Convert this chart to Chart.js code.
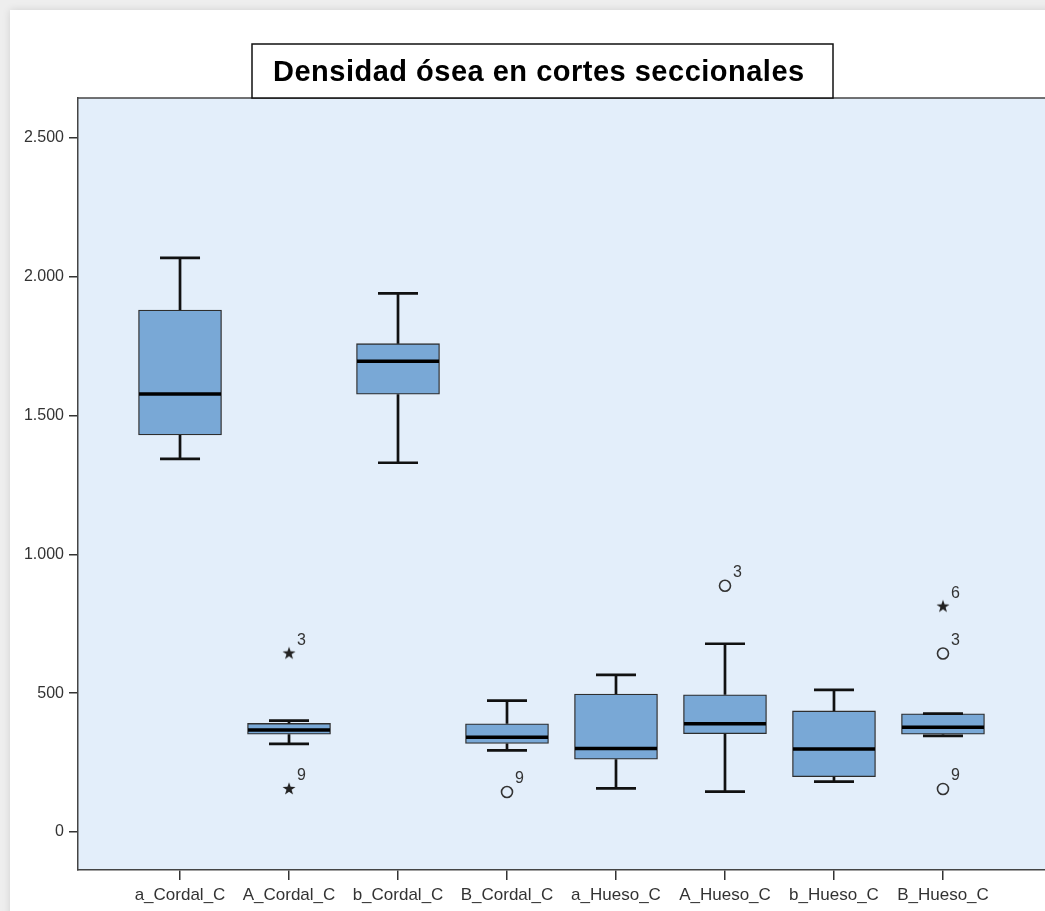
<!DOCTYPE html>
<html lang="es">
<head>
<meta charset="UTF-8">
<title>Densidad ósea en cortes seccionales</title>
<script src="https://cdn.jsdelivr.net/npm/chart.js"></script>
<style>
  html, body { margin: 0; padding: 0; }
  body {
    width: 1045px;
    height: 911px;
    background: #eeeeee;
    position: relative;
    overflow: hidden;
    font-family: Arial, 'Liberation Sans', sans-serif;
  }
  #sheet {
    position: absolute;
    left: 10px;
    top: 10px;
    width: 1100px;
    height: 1000px;
    background: #fff;
    box-shadow: 0 0 8px rgba(0,0,0,0.12);
  }
  #chart { position: absolute; left: 0; top: 0; }
</style>
</head>
<body>
<div id="sheet"></div>
<canvas id="chart" width="1045" height="911"></canvas>

<script>
  // datos
  const categories = ['a_Cordal_C', 'A_Cordal_C', 'b_Cordal_C', 'B_Cordal_C', 'a_Hueso_C', 'A_Hueso_C', 'b_Hueso_C', 'B_Hueso_C'];
  const whiskerLow  = [1344, 317, 1330, 294, 157, 145, 181, 346];
  const q1          = [1430, 352, 1577, 319, 262, 354, 199, 352];
  const median      = [1578, 367, 1696, 341, 301, 390, 299, 377];
  const q3          = [1880, 391, 1759, 390, 497, 494, 436, 426];
  const whiskerHigh = [2068, 401, 1940, 473, 566, 678, 512, 426];

  // valores atípicos (o) y extremos (*): categoría, valor, nº de caso
  const circleCat  = [4, 6, 8, 8];
  const circleVal  = [144, 887, 643, 155];
  const circleCase = ['9', '3', '3', '9'];
  const starCat    = [2, 2, 8];
  const starVal    = [643, 155, 812];
  const starCase   = ['3', '9', '6'];

  const yTicks = [0, 500, 1000, 1500, 2000, 2500];

  const fmt = v => String(v).replace(/\B(?=(\d{3})+(?!\d))/g, '.');

  // estrella rellena para los extremos
  const starImg = document.createElement('canvas');
  starImg.width = 16; starImg.height = 16;
  (function () {
    const c = starImg.getContext('2d');
    c.fillStyle = '#222';
    c.beginPath();
    for (let i = 0; i < 10; i++) {
      const r = i % 2 ? 2.7 : 6.8;
      const a = -Math.PI / 2 + i * Math.PI / 5;
      c.lineTo(8 + r * Math.cos(a), 8 + r * Math.sin(a));
    }
    c.closePath();
    c.fill();
  })();

  const boxPlugin = {
    id: 'boxParts',
    beforeDraw(chart) {
      const { ctx, chartArea: a } = chart;
      ctx.save();
      ctx.fillStyle = '#e3eefa';
      ctx.fillRect(a.left, a.top, a.right - a.left, a.bottom - a.top);
      ctx.restore();
    },
    afterDatasetsDraw(chart) {
      const { ctx, scales: { x, y } } = chart;
      ctx.save();
      ctx.strokeStyle = '#111';
      ctx.lineCap = 'butt';
      categories.forEach((c, i) => {
        const px = x.getPixelForValue(i + 1);
        // bigotes
        ctx.lineWidth = 2.7;
        ctx.beginPath();
        ctx.moveTo(px, y.getPixelForValue(q3[i]));
        ctx.lineTo(px, y.getPixelForValue(whiskerHigh[i]));
        ctx.moveTo(px, y.getPixelForValue(q1[i]));
        ctx.lineTo(px, y.getPixelForValue(whiskerLow[i]));
        ctx.moveTo(px - 20, y.getPixelForValue(whiskerHigh[i]));
        ctx.lineTo(px + 20, y.getPixelForValue(whiskerHigh[i]));
        ctx.moveTo(px - 20, y.getPixelForValue(whiskerLow[i]));
        ctx.lineTo(px + 20, y.getPixelForValue(whiskerLow[i]));
        ctx.stroke();
        // mediana
        ctx.lineWidth = 3.5;
        ctx.strokeStyle = '#000';
        ctx.beginPath();
        ctx.moveTo(px - 41, y.getPixelForValue(median[i]));
        ctx.lineTo(px + 41, y.getPixelForValue(median[i]));
        ctx.stroke();
        ctx.strokeStyle = '#111';
      });
      // etiquetas de caso
      ctx.fillStyle = '#333';
      ctx.font = '16px Arial, "Liberation Sans", sans-serif';
      ctx.textAlign = 'left';
      ctx.textBaseline = 'middle';
      [[1, circleCase], [2, starCase]].forEach(([di, labels]) => {
        chart.getDatasetMeta(di).data.forEach((pt, k) => {
          ctx.fillText(labels[k], pt.x + 8, pt.y - 13);
        });
      });
      ctx.restore();
    },
    afterDraw(chart) {
      const { ctx, chartArea: a } = chart;
      ctx.save();
      ctx.strokeStyle = '#444';
      ctx.lineWidth = 1.5;
      ctx.beginPath();
      ctx.moveTo(a.left, a.top);
      ctx.lineTo(a.right, a.top);
      ctx.stroke();
      // recuadro del título
      ctx.fillStyle = '#fff';
      ctx.fillRect(252, 44, 581, 54);
      ctx.strokeStyle = '#111';
      ctx.lineWidth = 1.5;
      ctx.strokeRect(252, 44, 581, 54);
      ctx.fillStyle = '#000';
      ctx.font = 'bold 29px Arial, "Liberation Sans", sans-serif';
      ctx.letterSpacing = '0.5px';
      ctx.textBaseline = 'middle';
      ctx.textAlign = 'left';
      ctx.fillText('Densidad ósea en cortes seccionales', 273, 73);
      ctx.restore();
    }
  };

  const ctx = document.getElementById('chart').getContext('2d');
  new Chart(ctx, {
    type: 'bar',
    data: {
      datasets: [
        {
          type: 'bar',
          data: categories.map((c, i) => ({ x: i + 1, y: [q1[i], q3[i]] })),
          backgroundColor: '#79a8d6',
          borderColor: '#2e2e2e',
          borderWidth: 1.3,
          borderSkipped: false,
          barThickness: 83
        },
        {
          type: 'scatter',
          data: circleCat.map((c, i) => ({ x: c, y: circleVal[i] })),
          pointStyle: 'circle',
          radius: 5.5,
          backgroundColor: 'rgba(0,0,0,0)',
          borderColor: '#333',
          borderWidth: 1.6
        },
        {
          type: 'scatter',
          data: starCat.map((c, i) => ({ x: c, y: starVal[i] })),
          pointStyle: starImg
        }
      ]
    },
    options: {
      responsive: false,
      animation: false,
      layout: { autoPadding: false, padding: { top: 98, left: 0, right: 0, bottom: 0 } },
      plugins: {
        legend: { display: false },
        tooltip: { enabled: false }
      },
      scales: {
        x: {
          type: 'linear',
          min: 0.064,
          max: 8.936,
          offset: false,
          afterBuildTicks: ax => { ax.ticks = categories.map((c, i) => ({ value: i + 1 })); },
          afterFit: ax => { ax.height = 41; },
          ticks: {
            callback: v => categories[v - 1],
            autoSkip: false,
            maxRotation: 0,
            padding: 5,
            color: '#333',
            font: { family: 'Arial, "Liberation Sans", sans-serif', size: 17 }
          },
          grid: { offset: false, drawOnChartArea: false, tickLength: 10, color: '#333', lineWidth: 1.5 },
          border: { color: '#444', width: 1.5 }
        },
        y: {
          min: -137,
          max: 2644,
          afterBuildTicks: ax => { ax.ticks = yTicks.map(v => ({ value: v })); },
          afterFit: ax => { ax.width = 78; },
          ticks: {
            callback: v => fmt(v),
            padding: 5,
            color: '#333',
            font: { family: 'Arial, "Liberation Sans", sans-serif', size: 16 }
          },
          grid: { drawOnChartArea: false, tickLength: 9, color: '#333', lineWidth: 1.5 },
          border: { color: '#444', width: 1.5 }
        }
      }
    },
    plugins: [boxPlugin]
  });
</script>
</body>
</html>
